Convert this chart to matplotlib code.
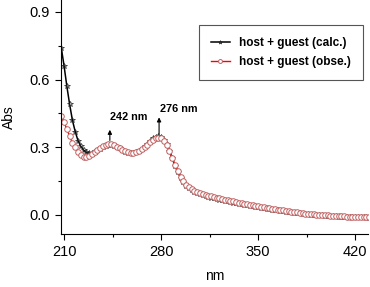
import matplotlib
matplotlib.use('Agg')
import matplotlib.pyplot as plt
import numpy as np
from matplotlib.ticker import MultipleLocator

plt.rcParams['font.family'] = ['Liberation Sans', 'DejaVu Sans']

# longueurs d'onde (nm), pas de 2 nm
wl = np.arange(208, 432, 2)

# host + guest (calc.)
calc = [0.740, 0.660, 0.570, 0.490, 0.420, 0.370, 0.330, 0.305, 0.288, 0.278,
        0.274, 0.275, 0.279, 0.286, 0.294, 0.301, 0.307, 0.310, 0.310, 0.307,
        0.302, 0.295, 0.288, 0.281, 0.276, 0.273, 0.273, 0.277, 0.284, 0.293,
        0.304, 0.316, 0.328, 0.339, 0.347, 0.350, 0.346, 0.334, 0.313, 0.284,
        0.251, 0.218, 0.189, 0.165, 0.145, 0.130, 0.119, 0.110, 0.103, 0.097,
        0.092, 0.088, 0.084, 0.080, 0.077, 0.074, 0.071, 0.068, 0.065, 0.062,
        0.060, 0.057, 0.055, 0.052, 0.050, 0.047, 0.045, 0.042, 0.040, 0.038,
        0.036, 0.034, 0.032, 0.030, 0.028, 0.026, 0.024, 0.022, 0.020, 0.018,
        0.016, 0.015, 0.013, 0.011, 0.010, 0.008, 0.007, 0.005, 0.004, 0.003,
        0.002, 0.001, 0.000, -0.001, -0.002, -0.003, -0.004, -0.005, -0.006, -0.006,
        -0.007, -0.008, -0.008, -0.009, -0.009, -0.010, -0.010, -0.010, -0.011, -0.011,
        -0.011, -0.012]

# host + guest (obse.)
obse = [0.440, 0.410, 0.380, 0.350, 0.320, 0.300, 0.280, 0.265, 0.258, 0.257,
        0.262, 0.270, 0.279, 0.288, 0.297, 0.305, 0.311, 0.314, 0.313, 0.309,
        0.303, 0.296, 0.289, 0.282, 0.277, 0.274, 0.274, 0.277, 0.283, 0.291,
        0.301, 0.312, 0.323, 0.333, 0.340, 0.343, 0.340, 0.330, 0.311, 0.285,
        0.254, 0.222, 0.194, 0.170, 0.150, 0.135, 0.124, 0.115, 0.108, 0.102,
        0.097, 0.093, 0.089, 0.085, 0.082, 0.079, 0.076, 0.073, 0.070, 0.068,
        0.065, 0.063, 0.060, 0.057, 0.055, 0.052, 0.049, 0.047, 0.045, 0.042,
        0.040, 0.038, 0.036, 0.034, 0.032, 0.030, 0.028, 0.026, 0.024, 0.022,
        0.020, 0.018, 0.016, 0.014, 0.012, 0.011, 0.009, 0.008, 0.006, 0.005,
        0.004, 0.003, 0.002, 0.001, 0.000, -0.001, -0.002, -0.003, -0.004, -0.005,
        -0.005, -0.006, -0.006, -0.007, -0.007, -0.008, -0.008, -0.008, -0.009, -0.009,
        -0.009, -0.010]

# pics annotés
peaks = [243, 278.5]
peak_labels = ['242 nm', '276 nm']

fig = plt.figure(figsize=(3.7, 2.87), dpi=100)
ax = fig.add_axes([0.165, 0.185, 0.83, 0.815])

ax.plot(wl, calc, color='black', lw=1.1, marker='*', ms=4, mew=0.5,
        mfc='none', mec='#222222', label='host + guest (calc.)')
ax.plot(wl, obse, color='red', lw=1, marker='o', ms=4, mew=0.7,
        mfc='white', mec='#c06060', label='host + guest (obse.)')

# flèches
ax.annotate('', xy=(peaks[0], 0.39), xytext=(peaks[0], 0.318),
            arrowprops=dict(arrowstyle='-|>', color='black', lw=0.8,
                            mutation_scale=6))
ax.annotate('', xy=(peaks[1], 0.445), xytext=(peaks[1], 0.345),
            arrowprops=dict(arrowstyle='-|>', color='black', lw=0.8,
                            mutation_scale=6))
ax.text(peaks[0], 0.435, peak_labels[0], fontsize=7.8, fontweight='bold',
        va='center', ha='left')
ax.text(peaks[1] + 1, 0.47, peak_labels[1], fontsize=7.8, fontweight='bold',
        va='center', ha='left')

ax.set_xlim(207.8, 429.3)
ax.set_ylim(-0.084, 0.953)
ax.set_xticks([210, 280, 350, 420])
ax.set_yticks([0.0, 0.3, 0.6, 0.9])
ax.set_yticklabels(['0.0', '0.3', '0.6', '0.9'])
ax.xaxis.set_minor_locator(MultipleLocator(35))
ax.yaxis.set_minor_locator(MultipleLocator(0.15))
ax.tick_params(which='major', direction='out', length=4.5, width=0.8,
               labelsize=10.5, colors='black')
ax.tick_params(which='minor', direction='out', length=2.5, width=0.8)
ax.spines['top'].set_visible(False)
ax.spines['right'].set_visible(False)

ax.set_xlabel('nm', fontsize=10, labelpad=7)
ax.set_ylabel('Abs', fontsize=10, labelpad=10)

leg = ax.legend(loc='upper right', bbox_to_anchor=(363 / 370, 1 - 25 / 287),
                bbox_transform=fig.transFigure, borderaxespad=0,
                fancybox=False, edgecolor='#555555', framealpha=1,
                prop={'size': 8.5, 'weight': 'bold'}, handlelength=1.6,
                borderpad=1.0, labelspacing=0.6, markerscale=0.7)
leg.get_frame().set_linewidth(0.8)

fig.savefig('out.png', dpi=100)
